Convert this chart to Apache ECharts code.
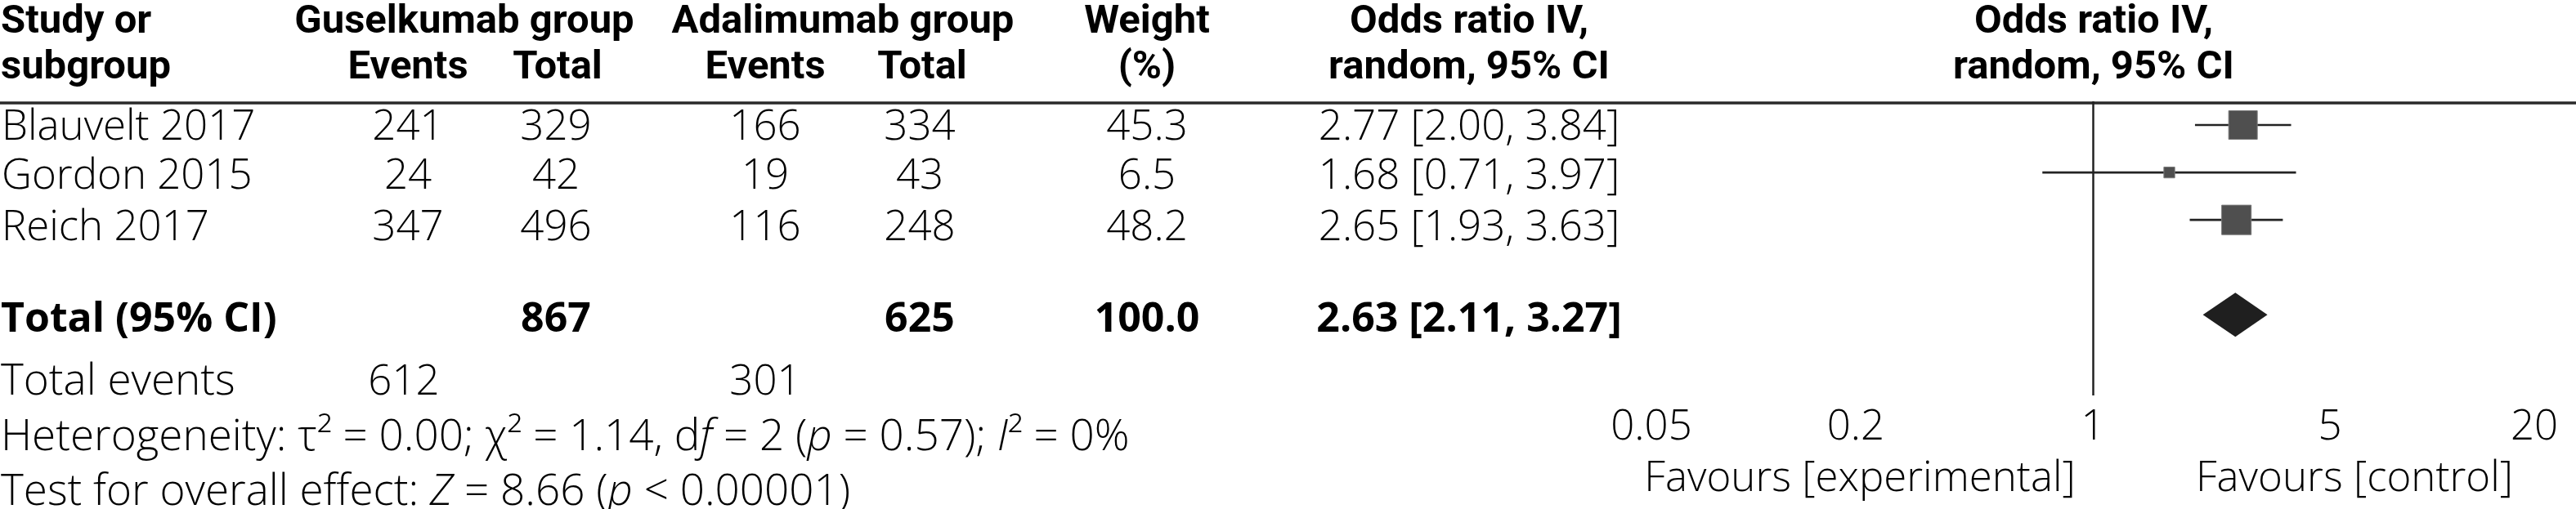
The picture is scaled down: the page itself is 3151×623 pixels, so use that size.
<!DOCTYPE html>
<html><head><meta charset="utf-8">
<script src="https://cdn.jsdelivr.net/npm/echarts@6/dist/echarts.min.js"></script>
<style>html,body{margin:0;padding:0;background:#fff}#c{width:3151px;height:623px}</style>
</head><body><div id="c"></div>
<script>
// ---------- data ----------
const studies    = ['Blauvelt 2017', 'Gordon 2015', 'Reich 2017'];
const expEvents  = [241, 24, 347];
const expTotal   = [329, 42, 496];
const ctlEvents  = [166, 19, 116];
const ctlTotal   = [334, 43, 248];
const weights    = [45.3, 6.5, 48.2];
const oddsRatio  = [2.77, 1.68, 2.65];
const ciLower    = [2.00, 0.71, 1.93];
const ciUpper    = [3.84, 3.97, 3.63];
const pooledOR   = [2.63, 2.11, 3.27];      // estimate, lower, upper
const pooledN    = [867, 625];              // total participants exp / ctl
const pooledWeight = 100.0;
const totalEvents  = [612, 301];
const hetStats   = ['0.00', '1.14', 2, '0.57', '0%']; // tau2, chi2, df, p, I2
const overallStats = ['8.66', '0.00001'];            // Z, p
const xTicks     = [0.05, 0.2, 1, 5, 20];
const studyRows  = [1, 2, 3];
const pooledRow  = 5;

// ---------- layout ----------
const FONT = "'Open Sans'";
const HFONT = 'Roboto';
const BODY = 51, HEAD = 49, FOOT = 53;
const colX = { study: 1, expE: 499, expT: 680, ctlE: 936, ctlT: 1125, w: 1403, or: 1797, plot: 2561 };
const rowY = { h1: 28, h2: 84, s: [156, 216, 279], total: 392, events: 468, het: 536, test: 603 };

const chart = echarts.init(document.getElementById('c'), null, { renderer: 'canvas' });

function T(x, y, text, opt) {
  opt = opt || {};
  return {
    type: 'text', x: x, y: y, silent: true,
    style: Object.assign({
      text: text, fill: '#000', fontFamily: opt.family || FONT,
      fontSize: opt.size || BODY, fontWeight: opt.weight || 300,
      align: opt.align || 'center', verticalAlign: 'middle'
    }, opt.extra || {})
  };
}
const H = (x, y, text, align) => T(x, y, text, { weight: 'bold', size: HEAD, family: HFONT, align: align });
const g = [];
// header
g.push(H(colX.study, rowY.h1, 'Study or', 'left'));
g.push(H(colX.study, rowY.h2, 'subgroup', 'left'));
g.push(H(568, rowY.h1, 'Guselkumab group'));
g.push(H(1031, rowY.h1, 'Adalimumab group'));
g.push(H(colX.w, rowY.h1, 'Weight'));
g.push(H(colX.or, rowY.h1, 'Odds ratio IV,'));
g.push(H(colX.plot, rowY.h1, 'Odds ratio IV,'));
g.push(H(colX.expE, rowY.h2, 'Events'));
g.push(H(682, rowY.h2, 'Total'));
g.push(H(colX.ctlE, rowY.h2, 'Events'));
g.push(H(1128, rowY.h2, 'Total'));
g.push(H(colX.w, rowY.h2, '(%)'));
g.push(H(colX.or, rowY.h2, 'random, 95% CI'));
g.push(H(colX.plot, rowY.h2, 'random, 95% CI'));
// header rule
g.push({ type: 'line', silent: true, shape: { x1: 0, y1: 126, x2: 3151, y2: 126 }, style: { stroke: '#2a2a2a', lineWidth: 3.5 } });

const fmtCI = (e, l, u) => e.toFixed(2) + ' [' + l.toFixed(2) + ', ' + u.toFixed(2) + ']';
studies.forEach((s, i) => {
  const y = rowY.s[i];
  g.push(T(colX.study + 1, y, s, { align: 'left' }));
  g.push(T(colX.expE, y, String(expEvents[i])));
  g.push(T(colX.expT, y, String(expTotal[i])));
  g.push(T(colX.ctlE, y, String(ctlEvents[i])));
  g.push(T(colX.ctlT, y, String(ctlTotal[i])));
  g.push(T(colX.w, y, weights[i].toFixed(1)));
  g.push(T(colX.or, y, fmtCI(oddsRatio[i], ciLower[i], ciUpper[i])));
});
// total row
g.push(T(colX.study, rowY.total, 'Total (95% CI)', { align: 'left', weight: 'bold', size: 50 }));
g.push(T(colX.expT, rowY.total, String(pooledN[0]), { weight: 'bold', size: 50 }));
g.push(T(colX.ctlT, rowY.total, String(pooledN[1]), { weight: 'bold', size: 50 }));
g.push(T(colX.w, rowY.total, pooledWeight.toFixed(1), { weight: 'bold', size: 50 }));
g.push(T(colX.or, rowY.total, fmtCI(pooledOR[0], pooledOR[1], pooledOR[2]), { weight: 'bold', size: 50 }));
// footer
g.push(T(colX.study, rowY.events, 'Total events', { align: 'left', size: FOOT }));
g.push(T(colX.expE - 5, rowY.events, String(totalEvents[0])));
g.push(T(colX.ctlE, rowY.events, String(totalEvents[1])));
const rich = {
  n: { fontFamily: FONT, fontSize: FOOT, fontWeight: 300, fill: '#000' },
  i: { fontFamily: FONT, fontSize: FOOT, fontWeight: 300, fontStyle: 'italic', fill: '#000' }
};
g.push(T(colX.study, rowY.het,
  '{n|Heterogeneity: τ² = ' + hetStats[0] + '; χ² = ' + hetStats[1] + ', d}{i|f}{n| = ' + hetStats[2] + ' (}{i|p}{n| = ' + hetStats[3] + '); }{i|I}{n|² = ' + hetStats[4] + '}',
  { align: 'left', size: FOOT, extra: { rich: rich } }));
g.push(T(colX.study, rowY.test,
  '{n|Test for overall effect: }{i|Z}{n| = ' + overallStats[0] + ' (}{i|p}{n| < ' + overallStats[1] + ')}',
  { align: 'left', size: FOOT, extra: { rich: rich } }));
// favours labels
g.push(T(2275, 586, 'Favours [experimental]'));
g.push(T(2880, 586, 'Favours [control]'));

const studyData = studies.map((s, i) => [ciLower[i], ciUpper[i], oddsRatio[i], studyRows[i], weights[i]]);
const pooledData = [[pooledOR[1], pooledOR[2], pooledOR[0], pooledRow]];

chart.setOption({
  animation: false,
  backgroundColor: '#fff',
  graphic: { elements: g },
  grid: { left: 2020, width: 1080, top: 124, height: 360, containLabel: false },
  xAxis: {
    type: 'log', logBase: 10, min: xTicks[0], max: xTicks[xTicks.length - 1],
    axisLine: { show: false }, axisTick: { show: false }, splitLine: { show: false },
    axisLabel: {
      customValues: xTicks, margin: 14, color: '#000', fontFamily: FONT, fontSize: BODY, fontWeight: 300,
      formatter: function (v) {
        let best = xTicks[0];
        xTicks.forEach(t => { if (Math.abs(Math.log(t) - Math.log(v)) < Math.abs(Math.log(best) - Math.log(v))) best = t; });
        return String(best);
      }
    }
  },
  yAxis: { type: 'value', inverse: true, min: 0.5, max: 6.7, show: false },
  series: [
    {
      type: 'custom', name: 'studies', data: studyData,
      encode: { x: [0, 1, 2], y: 3 },
      renderItem: function (params, api) {
        const y = api.value(3);
        const p1 = api.coord([api.value(0), y]);
        const p2 = api.coord([api.value(1), y]);
        const c = api.coord([api.value(2), y]);
        const sz = 5.2 * Math.sqrt(api.value(4));
        return {
          type: 'group', children: [
            { type: 'line', shape: { x1: p1[0], y1: p1[1], x2: p2[0], y2: p2[1] }, style: { stroke: '#232323', lineWidth: 2.6 } },
            { type: 'rect', shape: { x: c[0] - sz / 2, y: c[1] - sz / 2, width: sz, height: sz }, style: { fill: '#4f4f4f', stroke: '#7a7a7a', lineWidth: 1 } }
          ]
        };
      },
      markLine: {
        silent: true, symbol: ['none', 'none'], label: { show: false },
        lineStyle: { color: '#222', width: 2.5, type: 'solid' },
        data: [{ xAxis: 1 }]
      }
    },
    {
      type: 'custom', name: 'pooled', data: pooledData,
      encode: { x: [0, 1, 2], y: 3 },
      renderItem: function (params, api) {
        const y = api.value(3);
        const l = api.coord([api.value(0), y]);
        const r = api.coord([api.value(1), y]);
        const c = api.coord([api.value(2), y]);
        const h = 27;
        return {
          type: 'polygon',
          shape: { points: [[l[0], l[1]], [c[0], c[1] - h], [r[0], r[1]], [c[0], c[1] + h]] },
          style: { fill: '#1f1f1f' }
        };
      }
    }
  ]
});
</script></body></html>
